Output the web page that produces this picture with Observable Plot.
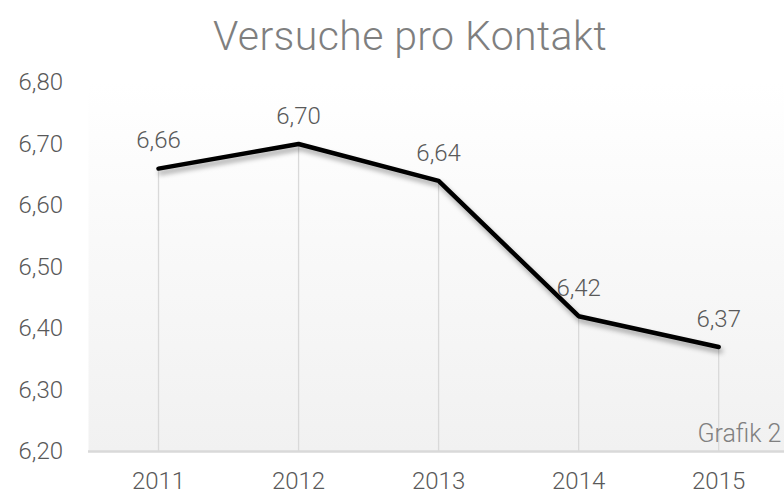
<!DOCTYPE html>
<html><head><meta charset="utf-8">
<script src="https://cdn.jsdelivr.net/npm/d3@7"></script>
<script src="https://cdn.jsdelivr.net/npm/@observablehq/plot@0.6"></script>
<style>
body{margin:0;background:#fff;font-family:Roboto,"Liberation Sans",Arial,sans-serif;}
#title{height:70px;box-sizing:border-box;padding-left:36px;text-align:center;font-size:41px;font-weight:300;color:#7f7f7f;line-height:72px;white-space:nowrap;letter-spacing:0.4px;}
#chart svg{display:block;}
#chart svg text{font-weight:300;}
</style></head><body>
<div id="title">Versuche pro Kontakt</div>
<div id="chart"></div>
<script>
const years = [2011, 2012, 2013, 2014, 2015];
const values = [6.66, 6.70, 6.64, 6.42, 6.37];
const yTicks = [6.2, 6.3, 6.4, 6.5, 6.6, 6.7, 6.8];
const caption = ["Grafik 2"];
const data = years.map((year, i) => ({year, value: values[i]}));
const fmt = v => d3.format(".2f")(v).replace(".", ",");

const chart = Plot.plot({
  width: 784, height: 425,
  marginLeft: 88, marginRight: 0, marginTop: 12, marginBottom: 44,
  style: {fontFamily: 'Roboto, "Liberation Sans", Arial, sans-serif', fontSize: "24px", color: "#595959", background: "transparent", overflow: "visible"},
  x: {type: "linear", domain: [2010.5, 2015.47]},
  y: {domain: [6.2, 6.8]},
  marks: [
    Plot.frame({fill: "url(#bg)", stroke: null}),
    Plot.ruleX(data, {x: "year", y1: 6.2, y2: "value", stroke: "#d9d9d9", strokeWidth: 1.3}),
    Plot.ruleY([6.2], {stroke: "#d9d9d9", strokeWidth: 2.5}),
    Plot.axisY({ticks: yTicks, tickFormat: fmt, tickSize: 0, tickPadding: 70, textAnchor: "start", label: null}),
    Plot.axisX({ticks: years, tickFormat: d => String(d), tickSize: 0, tickPadding: 20, label: null}),
    Plot.line(data, {x: "year", y: "value", stroke: "#000", strokeWidth: 4.5, strokeLinejoin: "round", strokeLinecap: "round"}),
    Plot.text(data, {x: "year", y: "value", text: d => fmt(d.value), dy: -28, fill: "#595959"}),
    Plot.text(caption, {frameAnchor: "bottom-right", text: d => d, dx: -3, dy: -18, lineAnchor: "middle", textAnchor: "end", fill: "#808080", fontSize: 25})
  ]
});

const ns = "http://www.w3.org/2000/svg";
const defs = document.createElementNS(ns, "defs");
defs.innerHTML = `
  <linearGradient id="bg" x1="0" y1="0" x2="0" y2="1">
    <stop offset="0" stop-color="#ffffff"/>
    <stop offset="1" stop-color="#f1f1f1"/>
  </linearGradient>
  <filter id="shadow" x="-10%" y="-20%" width="130%" height="160%">
    <feDropShadow dx="2" dy="4" stdDeviation="2.5" flood-color="#000" flood-opacity="0.35"/>
  </filter>`;
chart.insertBefore(defs, chart.firstChild);
const lineG = chart.querySelector('g[aria-label="line"]');
if (lineG) lineG.setAttribute("filter", "url(#shadow)");
document.getElementById("chart").appendChild(chart);
</script>
</body></html>
